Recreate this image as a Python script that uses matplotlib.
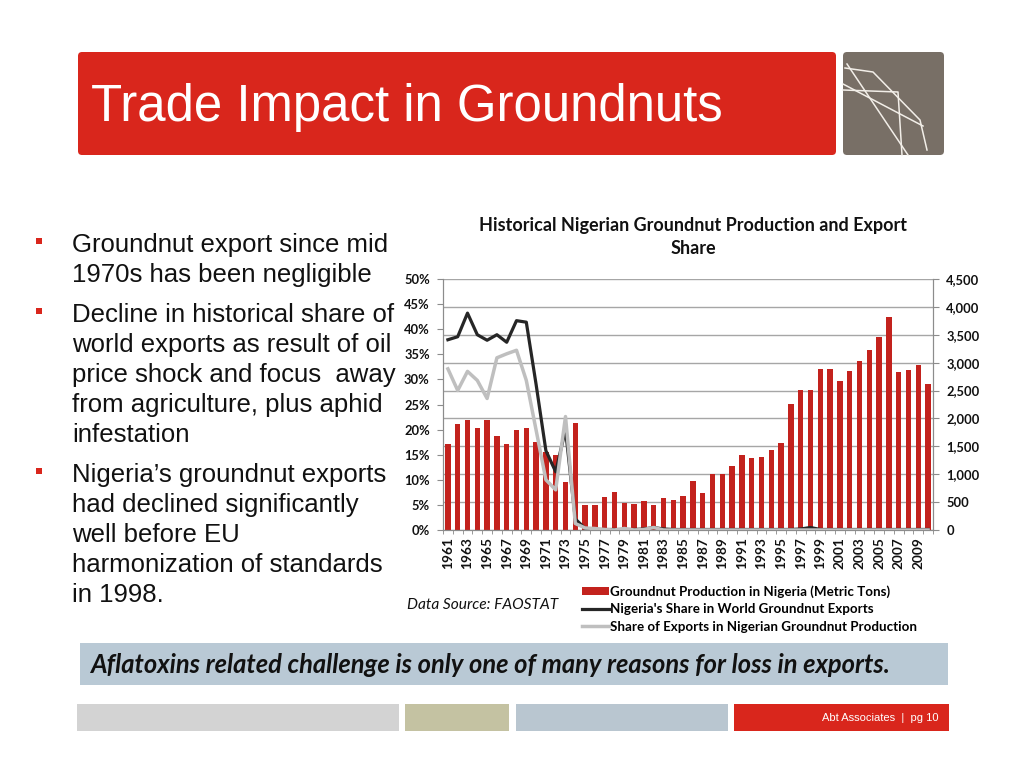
import numpy as np
import matplotlib.pyplot as plt
from matplotlib.patches import FancyBboxPatch, Rectangle, Patch
from matplotlib.lines import Line2D
from matplotlib.ticker import FuncFormatter

# data
years = list(range(1961, 2011))
production = [1550, 1908, 1967, 1836, 1967, 1681, 1538, 1800, 1833, 1575,
              1400, 1341, 864, 1922, 440, 441, 584, 685, 489, 459,
              519, 441, 572, 536, 608, 882, 667, 1001, 1001, 1144,
              1353, 1282, 1305, 1436, 1561, 2265, 2515, 2515, 2879, 2885,
              2670, 2843, 3028, 3236, 3463, 3814, 2837, 2861, 2956, 2623]
world_share = [37.9, 38.5, 43.2, 38.9, 37.8, 38.9, 37.4, 41.7, 41.4, 29.0,
               15.8, 11.6, 20.0, 2.2, 0.3, 0.1, 0.1, 0.1, 0.1, 0.1,
               0.2, 0.5, 0.2, 0.1, 0.1, 0.1, 0.1, 0.1, 0.1, 0.1,
               0.1, 0.1, 0.1, 0.1, 0.1, 0.1, 0.2, 0.5, 0.1, 0.1,
               0.1, 0.1, 0.1, 0.1, 0.1, 0.1, 0.1, 0.1, 0.1, 0.1]
export_share = [32.1, 27.8, 31.6, 29.8, 26.2, 34.3, 35.1, 35.8, 29.8, 19.9,
                10.0, 8.0, 22.6, 1.3, 0.4, 0.3, 0.1, 0.0, 0.3, 0.0,
                0.1, 0.5, 0.0, 0.0, 0.0, 0.0, 0.0, 0.0, 0.0, 0.0,
                0.0, 0.0, 0.0, 0.0, 0.0, 0.0, 0.0, 0.0, 0.0, 0.0,
                0.0, 0.0, 0.0, 0.0, 0.0, 0.0, 0.0, 0.0, 0.0, 0.0]

bullets = [
    ["Groundnut export since mid", "1970s has been negligible"],
    ["Decline in historical share of", "world exports as result of oil",
     "price shock and focus  away", "from agriculture, plus aphid", "infestation"],
    ["Nigeria\u2019s groundnut exports", "had declined significantly",
     "well before EU", "harmonization of standards", "in 1998."],
]

RED = "#d9261c"
BAR = "#c3221d"
CHART_FONT = "Lato"
ARIAL = "Liberation Sans"

fig = plt.figure(figsize=(10.24, 7.68), dpi=100)

# slide background drawn in pixel coordinates
bg = fig.add_axes([0, 0, 1, 1])
bg.set_xlim(0, 1024)
bg.set_ylim(768, 0)
bg.axis("off")

bg.add_patch(FancyBboxPatch((78, 52), 758, 103, boxstyle="round,pad=0,rounding_size=4",
                            fc=RED, ec="none"))
bg.add_patch(FancyBboxPatch((843, 52), 101, 103, boxstyle="round,pad=0,rounding_size=4",
                            fc="#786f66", ec="none"))
# white line pattern in the grey square
for pts in [[(843, 90), (898, 92), (902, 155)],
            [(845, 68), (873, 72), (920, 120), (927, 150)],
            [(843, 84), (923, 126)],
            [(847, 64), (908, 155)]]:
    xs, ys = zip(*pts)
    bg.plot(xs, ys, color="#f2eee8", lw=1.1, solid_joinstyle="round")

bg.text(91, 121, "Trade Impact in Groundnuts", color="white", fontsize=36.7,
        family=ARIAL, va="baseline", ha="left")

# bullets
baselines = [[251.7, 281.7], [321.7, 351.7, 381.7, 411.7, 441.7],
             [481.7, 511.7, 541.7, 571.7, 601.7]]
for lines, bls in zip(bullets, baselines):
    bg.add_patch(Rectangle((36, bls[0] - 14), 6, 6.5, fc="#d9261c", ec="none"))
    for txt, b in zip(lines, bls):
        bg.text(72, b, txt, fontsize=18.5, family=ARIAL, color="#111111",
                va="baseline", ha="left")

# chart title and source
bg.text(693, 225, "Historical Nigerian Groundnut Production and Export", fontsize=13,
        family=CHART_FONT, fontweight="bold", ha="center", va="center", color="#111111")
bg.text(693, 249, "Share", fontsize=13, family=CHART_FONT, fontweight="bold",
        ha="center", va="center", color="#111111")
bg.text(407, 605, "Data Source: FAOSTAT", fontsize=11.2, family=CHART_FONT,
        style="italic", ha="left", va="center", color="#111111")

# message banner
bg.add_patch(Rectangle((80, 643), 868, 42, fc="#b9c9d5", ec="none"))
bg.text(90, 665, "Aflatoxins related challenge is only one of many reasons for loss in exports.",
        fontsize=18.4, family=CHART_FONT, fontweight="bold", style="italic",
        ha="left", va="center", color="#111111")

# footer bars
bg.add_patch(Rectangle((77, 704), 322, 27, fc="#d3d3d3", ec="none"))
bg.add_patch(Rectangle((405, 704), 104, 27, fc="#c4c2a2", ec="none"))
bg.add_patch(Rectangle((516, 704), 212, 27, fc="#b9c6d0", ec="none"))
bg.add_patch(Rectangle((734, 704), 215, 27, fc=RED, ec="none"))
bg.text(938, 718, "Abt Associates  |  pg 10", fontsize=8, family=ARIAL, color="white",
        ha="right", va="center")

# chart
ax = fig.add_axes([443 / 1024, 1 - 530 / 768, 490 / 1024, 251 / 768])
x = np.arange(len(years))
ax.bar(x, production, width=0.55, color=BAR, zorder=2)
ax.set_ylim(0, 4500)
ax.set_xlim(-0.5, len(years) - 0.5)
ax.set_yticks(np.arange(0, 4501, 500))
ax.yaxis.set_major_formatter(FuncFormatter(lambda v, p: f"{int(v):,}"))
ax.yaxis.tick_right()
ax.set_axisbelow(True)
ax.yaxis.grid(True, color="#a6a6a6", lw=1)

ax2 = ax.twinx()
ax2.plot(x, world_share, color="#262626", lw=2.3, zorder=3)
ax2.plot(x, export_share, color="#bfbfbf", lw=2.5, zorder=3)
ax2.set_ylim(0, 50)
ax2.set_yticks(np.arange(0, 51, 5))
ax2.yaxis.set_major_formatter(FuncFormatter(lambda v, p: f"{int(v)}%"))
ax2.yaxis.tick_left()
ax.yaxis.tick_right()

ax.set_xticks(x[::2])
ax.set_xticklabels([str(y) for y in years[::2]], rotation=90)
ax.set_xticks(np.arange(-0.5, len(years), 1), minor=True)
ax.tick_params(axis="x", which="major", length=0, pad=5)
ax.tick_params(axis="x", which="minor", length=3, color="#888888")

for a in (ax, ax2):
    a.spines["top"].set_visible(False)
    for s in ("left", "right", "bottom"):
        a.spines[s].set_color("#8c8c8c")
    a.tick_params(axis="y", length=4, color="#8c8c8c", pad=5.5)
    for lab in a.get_yticklabels():
        lab.set_fontsize(9.3)
    for lab in a.get_xticklabels():
        lab.set_fontsize(9.8)
    for lab in a.get_xticklabels() + a.get_yticklabels():
        lab.set_fontfamily(CHART_FONT)
        lab.set_fontweight("bold")
        lab.set_color("#111111")

handles = [Patch(fc=BAR, ec="none"),
           Line2D([], [], color="#262626", lw=2.3),
           Line2D([], [], color="#bfbfbf", lw=2.5)]
labels = ["Groundnut Production in Nigeria (Metric Tons)",
          "Nigeria's Share in World Groundnut Exports",
          "Share of Exports in Nigerian Groundnut Production"]
fig.legend(handles, labels, loc="upper left", bbox_to_anchor=(582 / 1024, 1 - 585 / 768),
           frameon=False, handlelength=2.0, handleheight=0.6, handletextpad=0.12,
           labelspacing=0.42, borderpad=0, borderaxespad=0,
           prop={"family": CHART_FONT, "weight": "bold", "size": 9.6})

fig.savefig("out.png", dpi=100)
